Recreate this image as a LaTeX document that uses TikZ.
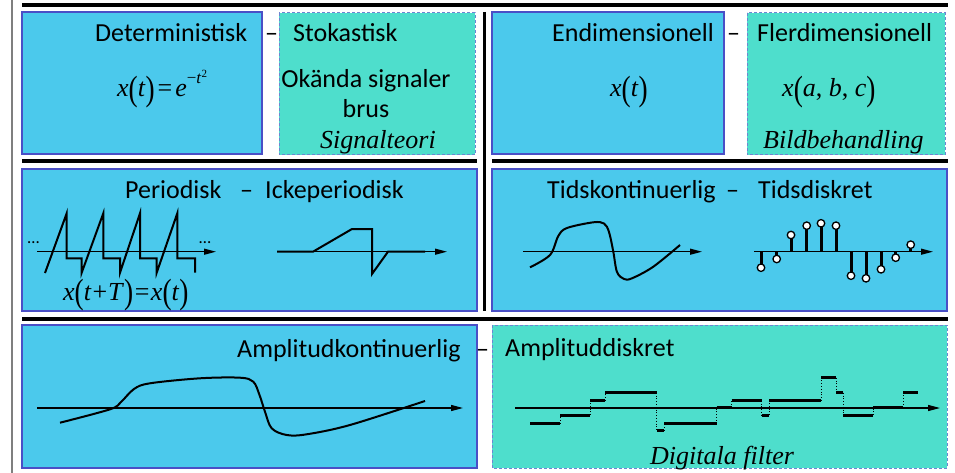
\documentclass[tikz,border=0pt]{standalone}
\usepackage{fontspec}
\usepackage{graphicx}
\setmainfont{Carlito}
\newfontfamily\tnr{Liberation Serif}
\usetikzlibrary{arrows.meta}

\definecolor{boxblue}{HTML}{4BC9EC}
\definecolor{boxedge}{HTML}{4A4FC6}
\definecolor{boxteal}{HTML}{4EDECC}
\definecolor{tealedge}{HTML}{6E85D2}
\definecolor{railgray}{HTML}{7F7F7F}

% tall parentheses as set by an equation editor
\newcommand\tallp[1]{\raisebox{-0.13em}{\scalebox{1.05}[1.35]{#1}}}
\newcommand\mi[1]{\textit{#1}}
\newcommand\eqsp{\hspace{3pt}}

\tikzset{
  detbox/.style={fill=boxblue, draw=boxedge, line width=1.2pt},
  stobox/.style={fill=boxteal, draw=tealedge, line width=1pt, dash pattern=on 3pt off 2pt},
  rulebar/.style={line width=4pt},
  lab/.style={font=\fontsize{26}{30}\selectfont, inner sep=0pt, anchor=base west},
  note/.style={font=\fontsize{26}{30}\selectfont\tnr\itshape, inner sep=0pt, anchor=base west},
  eq/.style={font=\fontsize{26}{30}\selectfont\tnr, inner sep=0pt, anchor=base west},
  dots/.style={font=\fontsize{17}{17}\selectfont, inner sep=0pt, anchor=base},
  axis/.style={line width=1.2pt, -{Triangle[length=12pt,width=6pt]}},
  sig/.style={line width=2pt, line join=miter},
  stemline/.style={line width=3pt},
  sample/.style={circle, draw, fill=white, line width=1.3pt, minimum size=7.5pt, inner sep=0pt},
  level/.style={line width=3pt},
  riser/.style={line width=0.8pt, dotted},
}

\begin{document}
\begin{tikzpicture}[x=1pt, y=-1pt]
\useasboundingbox (0,0) rectangle (955,473);
\fill[white] (0,0) rectangle (955,473);

% margin rule and separators
\draw[railgray, line width=2pt] (12,0) -- (12,473);
\draw[rulebar] (22,5.3) -- (948,5.3);
\draw[rulebar] (22,161) -- (477,161);
\draw[rulebar] (492,161) -- (948,161);
\draw[rulebar] (22,318.5) -- (948,318.5);
\draw[line width=3pt] (484.5,12) -- (484.5,311);

% boxes
\draw[detbox] (22,12) rectangle (262,154);
\draw[stobox] (279,13) rectangle (475,155);
\draw[detbox] (492,12) rectangle (724,154);
\draw[stobox] (747,13) rectangle (945,155);
\draw[detbox] (22,169) rectangle (477,311);
\draw[detbox] (492,169) rectangle (947,311);
\draw[detbox] (22,325) rectangle (477,468);
\draw[stobox] (492,325) rectangle (947,468);

% ---- deterministic / stochastic
\node[lab] (det) at (95,42) {Deterministisk};
\node[lab] (dash1) at (265,42) {–};
\node[lab] (sto) at (293,42) {Stokastisk};
\node[eq] (gauss) at (117,97) {\mi{x}\tallp{(}\mi{t}\tallp{)}\eqsp=\eqsp\mi{e}\raisebox{0.5em}{\fontsize{17}{17}\selectfont −\mi{t}\raisebox{0.38em}{\fontsize{11}{11}\selectfont 2}}};
\node[lab, anchor=base] (unk) at (366,88) {Okända signaler};
\node[lab, anchor=base] (brus) at (366,118) {brus};
\node[note] (sigteori) at (320,149) {Signalteori};

% ---- one- / multidimensional
\node[lab] (endim) at (552,42) {Endimensionell};
\node[lab] (dash2) at (727,42) {–};
\node[lab] (flerdim) at (757,42) {Flerdimensionell};
\node[eq] (xt) at (610,97) {\mi{x}\tallp{(}\mi{t}\tallp{)}};
\node[eq] (xabc) at (782,97) {\mi{x}\tallp{(}\mi{a}, \mi{b}, \mi{c}\tallp{)}};
\node[note] (bild) at (763,149) {Bildbehandling};

% ---- periodic / aperiodic
\node[lab] (per) at (125,198) {Periodisk};
\node[lab] (dash3) at (240,198) {–};
\node[lab] (iper) at (265,198) {Ickeperiodisk};
\coordinate (pa0) at (37,251.7);
\coordinate (pa1) at (216,251.7);
\draw[axis] (pa0) -- (pa1);
\node[dots] (dl) at (33.5,243.5) {…};
\node[dots] (dr) at (205,243.5) {…};
\draw[sig] (45,273) -- (66.7,213.3) -- (66.7,258.3) -- (81.7,258.3) -- (81.7,272.7)
  -- (103.3,213.3) -- (103.3,258.3) -- (120,258.3) -- (120,272.7)
  -- (140,213.3) -- (140,258.3) -- (156.7,258.3) -- (156.7,272.7)
  -- (177.3,213.3) -- (177.3,258.3) -- (195,258.3) -- (195,272.7);
\node[eq] (pereq) at (63,300) {\mi{x}\tallp{(}\mi{t}\hspace{1pt}+\hspace{1pt}\mi{T}\tallp{)}\hspace{1.5pt}=\hspace{1.5pt}\mi{x}\tallp{(}\mi{t}\tallp{)}};
\coordinate (na0) at (277,251.7);
\coordinate (na1) at (447,251.7);
\draw[axis] (na0) -- (na1);
\draw[sig] (277,251.7) -- (313,251.7) -- (352,229) -- (372,229) -- (372,274)
  -- (388,251.7) -- (425,251.7);

% ---- continuous / discrete time
\node[lab] (tk) at (547,198) {Tidskontinuerlig};
\node[lab] (dash4) at (726,198) {–};
\node[lab] (td) at (758,198) {Tidsdiskret};
\coordinate (ca0) at (523,251.7);
\coordinate (ca1) at (702,251.7);
\draw[axis] (ca0) -- (ca1);
\draw[sig, smooth, tension=0.55] plot coordinates {(530,267.3) (550,255) (558.3,236) (567,228) (593.3,222.3) (604,223.5) (609,232) (613.3,251.7) (617,272) (624,279) (632,278.3) (653.3,266.7) (680,245)};
\coordinate (da0) at (754,251.7);
\coordinate (da1) at (933,251.7);
\draw[axis] (da0) -- (da1);
\foreach \x/\y [count=\i] in {761/267.7, 776.7/259, 791/235, 806.7/225.7, 821/223.3, 836/225.7, 851/275.7, 866/278.3, 881/269.3, 895.7/257.7, 910.7/244.7} {
  \draw[stemline] (\x,251.7) -- (\x,\y);
  \node[sample] (s\i) at (\x,\y) {};
}

% ---- continuous / discrete amplitude
\node[lab] (ak) at (237,357) {Amplitudkontinuerlig};
\node[lab] (dash5) at (476,357) {–};
\node[lab] (ad) at (505,356) {Amplituddiskret};
\coordinate (aa0) at (37,408);
\coordinate (aa1) at (463,408);
\draw[axis] (aa0) -- (aa1);
\draw[sig, smooth, tension=0.55] plot coordinates {(60,422.7) (110,409.3) (121,402) (134,389) (150,383.3) (200,378.3) (240,377.7) (253.3,381.7) (259.5,395) (265,411.7) (271.7,428.3) (286.7,435) (306.7,434.3) (350,425) (425,401)};
\coordinate (qa0) at (515,408);
\coordinate (qa1) at (940,408);
\draw[axis] (qa0) -- (qa1);
\foreach \xa/\xb/\y in {530/560/423.3, 560/590/415, 590/605/400.7, 605/656.7/392.7,
  656.7/664.3/430.7, 664.3/716.7/423.3, 716.7/731.7/407.3, 731.7/761.7/400.7,
  761.7/769/415, 769/821/400.7, 821/836/377.7, 836/843.3/392.7, 843.3/873.3/415,
  873.3/903.3/407.3, 903.3/917.7/392.7}
  \draw[level] (\xa,\y) -- (\xb,\y);
\foreach \x/\ya/\yb in {560/423.3/415, 590/415/400.7, 605/400.7/392.7, 656.7/392.7/430.7,
  664.3/430.7/423.3, 716.7/423.3/407.3, 731.7/407.3/400.7, 761.7/400.7/415,
  769/415/400.7, 821/400.7/377.7, 836/377.7/392.7, 843.3/392.7/415, 873.3/415/407.3,
  903.3/407.3/392.7}
  \draw[riser] (\x,\ya) -- (\x,\yb);
\node[note] (digf) at (650,464) {Digitala filter};
\end{tikzpicture}
\end{document}
